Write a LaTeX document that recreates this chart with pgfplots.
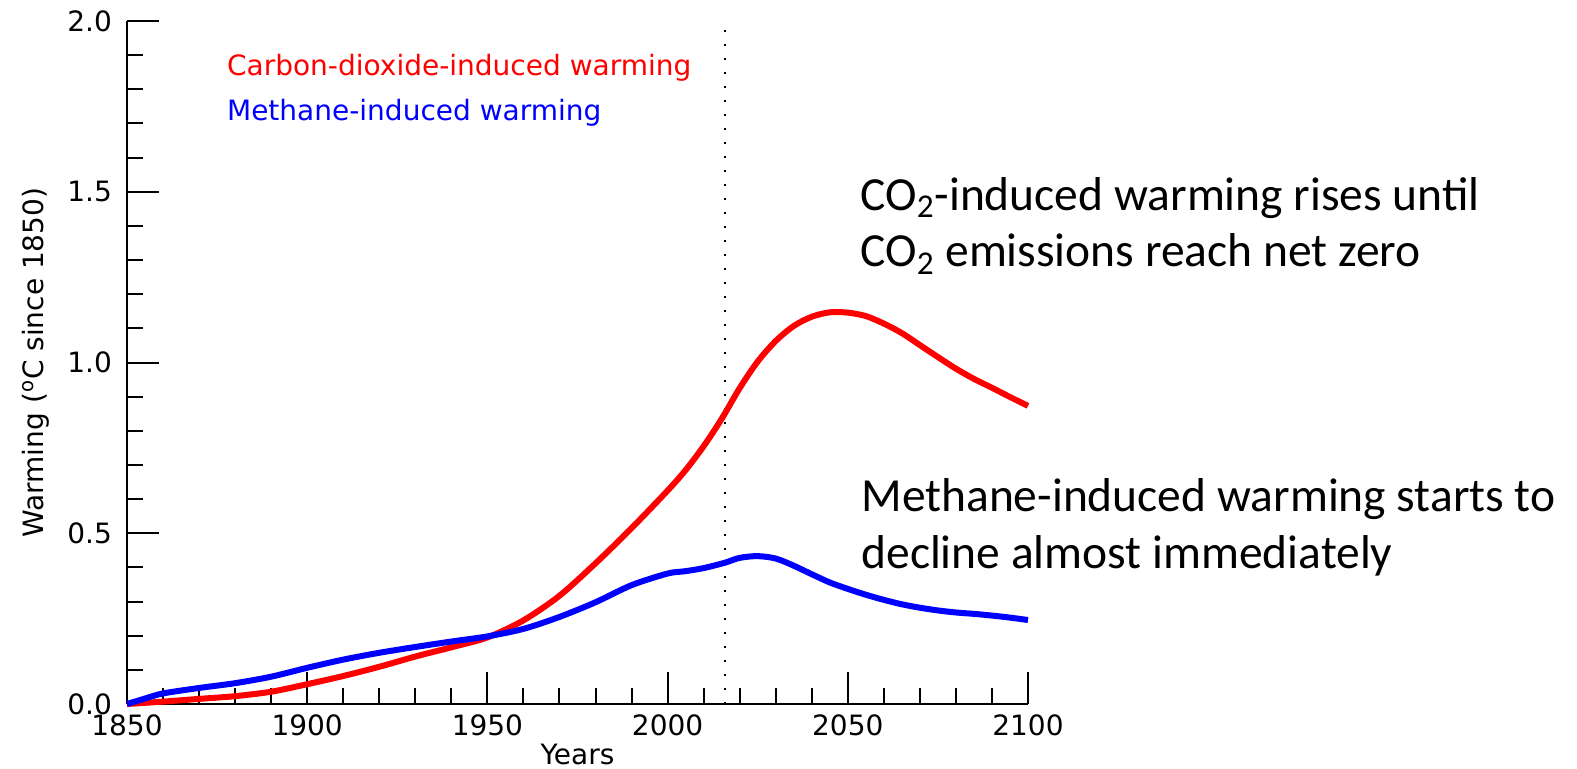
\documentclass[border=0pt]{standalone}
\usepackage{pgfplots}
\pgfplotsset{compat=1.18}
\usepackage{fontspec}
\setmainfont{DejaVu Sans}
\newfontfamily\calfont{Carlito}
\begin{document}
\begin{tikzpicture}
\useasboundingbox (0,0) rectangle (788.5pt,384pt);
\begin{axis}[
  at={(63.5pt,32pt)}, anchor=south west,
  scale only axis, width=450.5pt, height=341.5pt,
  xmin=1850, xmax=2100, ymin=0, ymax=2,
  axis x line*=bottom, axis y line*=left,
  axis line style={line width=1pt,-},
  xtick={1850,1900,...,2100}, ytick={0,0.5,1.0,1.5,2.0},
  minor x tick num=4, minor y tick num=4,
  tick align=inside,
  major tick length=16pt, minor tick length=8pt,
  every tick/.style={black, line width=1pt},
  /pgf/number format/assume math mode=true,
  xticklabel style={/pgf/number format/1000 sep={}, yshift=-2pt},
  yticklabel style={/pgf/number format/fixed, /pgf/number format/fixed zerofill, /pgf/number format/precision=1, xshift=-4pt},
  tick label style={font=\fontsize{14}{16}\selectfont},
  label style={font=\fontsize{14}{16}\selectfont},
  xlabel={Years},
  xlabel style={at={(axis description cs:0.5,-0.0732)}, anchor=center},
  ylabel={Warming (\textsuperscript{o}C since 1850)},
  ylabel style={at={(axis description cs:-0.101,0.5)}, anchor=center},
  clip=false,
]
\addplot[black, line width=1pt, dash pattern=on 1pt off 6pt] coordinates {(2016,0) (2016,2)};
\addplot[red, line width=3pt, smooth] coordinates {
(1850,0) (1860,0.007) (1870,0.015) (1880,0.023) (1890,0.036) (1900,0.058)
(1910,0.082) (1920,0.109) (1930,0.139) (1940,0.166) (1950,0.195)
(1960,0.245) (1970,0.317) (1980,0.412) (1990,0.515) (2000,0.625)
(2005,0.685) (2010,0.755) (2015,0.835) (2020,0.925) (2025,1.003)
(2030,1.063) (2035,1.107) (2040,1.134) (2045,1.147) (2050,1.146)
(2055,1.136) (2060,1.114) (2065,1.086) (2070,1.051) (2075,1.016)
(2080,0.982) (2085,0.952) (2090,0.926) (2095,0.899) (2100,0.873)
};
\addplot[blue, line width=3pt, smooth] coordinates {
(1850,0) (1855,0.016) (1860,0.031) (1870,0.047) (1880,0.061) (1890,0.080)
(1900,0.106) (1910,0.130) (1920,0.150) (1930,0.167) (1940,0.183)
(1950,0.198) (1960,0.220) (1970,0.255) (1980,0.298) (1990,0.348)
(2000,0.382) (2005,0.389) (2010,0.398) (2016,0.414) (2020,0.428)
(2025,0.433) (2030,0.426) (2035,0.405) (2040,0.380) (2045,0.356)
(2050,0.337) (2055,0.320) (2060,0.305) (2065,0.292) (2070,0.282)
(2075,0.274) (2080,0.268) (2085,0.264) (2090,0.259) (2095,0.253) (2100,0.246)
};
\end{axis}
\node[anchor=base west, inner sep=0, text=red, font=\fontsize{14}{16}\selectfont] at (113.35pt,346.5pt) {Carbon-dioxide-induced warming};
\node[anchor=base west, inner sep=0, text=blue, font=\fontsize{14}{16}\selectfont] at (113.35pt,324pt) {Methane-induced warming};
\node[anchor=base west, inner sep=0, font=\calfont\fontsize{23.75}{28}\selectfont] at (430pt,279pt) {CO\textsubscript{2}-induced warming rises until};
\node[anchor=base west, inner sep=0, font=\calfont\fontsize{23.75}{28}\selectfont] at (430pt,250.65pt) {CO\textsubscript{2} emissions reach net zero};
\node[anchor=base west, inner sep=0, font=\calfont\fontsize{23.75}{28}\selectfont] at (430.5pt,128.15pt) {Methane-induced warming starts to};
\node[anchor=base west, inner sep=0, font=\calfont\fontsize{23.75}{28}\selectfont] at (430.5pt,99.85pt) {decline almost immediately};
\end{tikzpicture}
\end{document}
